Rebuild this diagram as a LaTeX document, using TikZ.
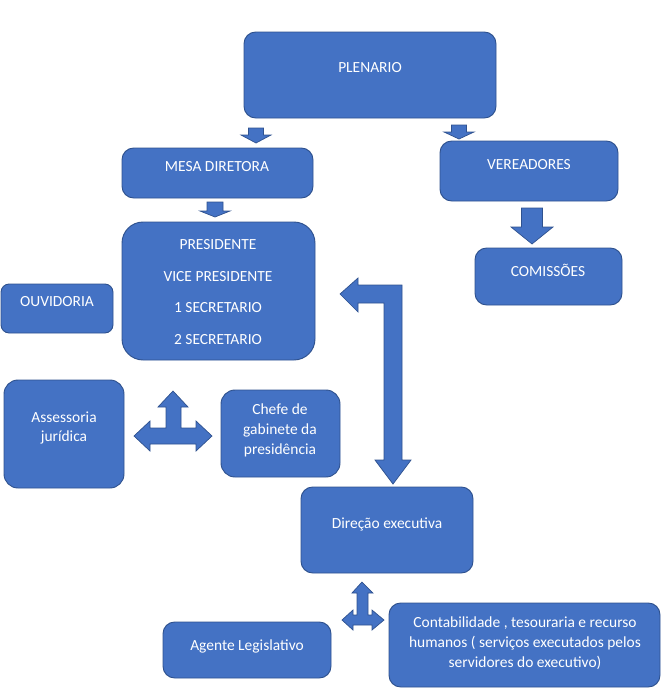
\documentclass[tikz,border=0pt]{standalone}
\usepackage{fontspec}
\setmainfont{Carlito}
\usetikzlibrary{fit}

\definecolor{azul}{HTML}{4472C4}
\definecolor{borda}{HTML}{2F528F}

% seta de bloco para baixo: x, topo, base da cabeça, ponta, meia haste, meia cabeça
\newcommand{\setabaixo}[6]{%
  \filldraw[seta] (#1-#5,#2) -- (#1+#5,#2) -- (#1+#5,#3) -- (#1+#6,#3)
    -- (#1,#4) -- (#1-#6,#3) -- (#1-#5,#3) -- cycle;}

\tikzset{
  caixa/.style={inner sep=0pt, draw=borda, fill=azul, line width=0.8pt, rounded corners=10pt},
  texto/.style={text=white, align=center, inner sep=0pt, font=\fontsize{13.2}{17}\selectfont},
  seta/.style={fill=azul, draw=borda, line width=0.6pt, line join=miter}
}

\begin{document}
\begin{tikzpicture}[x=0.03cm, y=-0.03cm]
  \useasboundingbox (0,0) rectangle (665,698);

  % caixas
  \node[caixa, fit={(244,32) (496,118)}] (plenario) {};
  \node[caixa, fit={(122,148) (313,198)}] (mesa) {};
  \node[caixa, fit={(440,141) (618,201)}] (vereadores) {};
  \node[caixa, fit={(122,222) (315,360)}, rounded corners=18pt] (presidencia) {};
  \node[caixa, fit={(475,248) (622,305)}] (comissoes) {};
  \node[caixa, fit={(1,284) (113,333)}, rounded corners=7pt] (ouvidoria) {};
  \node[caixa, fit={(4,380) (124,488)}, rounded corners=12pt] (assessoria) {};
  \node[caixa, fit={(221,390) (340,477)}, rounded corners=12pt] (chefe) {};
  \node[caixa, fit={(301,487) (473,573)}] (direcao) {};
  \node[caixa, fit={(163,622) (331,678)}] (agente) {};
  \node[caixa, fit={(389,603) (660,687)}] (contab) {};

  % textos
  \node[texto] (plenariot) at (370,68) {PLENARIO};
  \node[texto] (mesat) at (217,167) {MESA DIRETORA};
  \node[texto] (vereadorest) at (529,165) {VEREADORES};
  \node[texto] (presidenciat) at (218,292)
    {PRESIDENTE\\[9.9pt] VICE PRESIDENTE\\[9.9pt] 1 SECRETARIO\\[9.9pt] 2 SECRETARIO};
  \node[texto] (comissoest) at (548,270) {COMISSÕES};
  \node[texto] (ouvidoriat) at (57,302) {OUVIDORIA};
  \node[texto] (assessoriat) at (64,428) {Assessoria\\ jurídica};
  \node[texto] (chefet) at (280,430) {Chefe de\\ gabinete da\\ presidência};
  \node[texto] (direcaot) at (387,524) {Direção executiva};
  \node[texto] (agentet) at (247,646) {Agente Legislativo};
  \node[texto] (contabt) at (525,643)
    {Contabilidade , tesouraria e recurso\\ humanos ( serviços executados pelos\\ servidores do executivo)};

  % setas
  \setabaixo{256}{128}{135}{143}{7.5}{15}
  \setabaixo{215}{202}{211}{217}{8}{15}
  \setabaixo{459}{125}{132}{139}{7.5}{15}
  \setabaixo{532}{208}{227}{244}{10.5}{21}

  \filldraw[seta] (340,294) -- (358,278) -- (358,285) -- (402,285) -- (402,460)
    -- (411,460) -- (393,484) -- (375,460) -- (384,460) -- (384,303)
    -- (358,303) -- (358,312) -- cycle;

  \filldraw[seta] (173,391) -- (188,407) -- (181,407) -- (181,428) -- (196,428)
    -- (196,421) -- (212,436) -- (196,451) -- (196,444) -- (150,444)
    -- (150,451) -- (134,436) -- (150,421) -- (150,428) -- (166,428)
    -- (166,407) -- (158,407) -- cycle;

  \filldraw[seta] (362,582) -- (373,593) -- (368,593) -- (368,615) -- (372,615)
    -- (372,610) -- (384,620) -- (372,630) -- (372,625) -- (353,625)
    -- (353,630) -- (342,620) -- (353,610) -- (353,615) -- (357,615)
    -- (357,593) -- (352,593) -- cycle;
\end{tikzpicture}
\end{document}
